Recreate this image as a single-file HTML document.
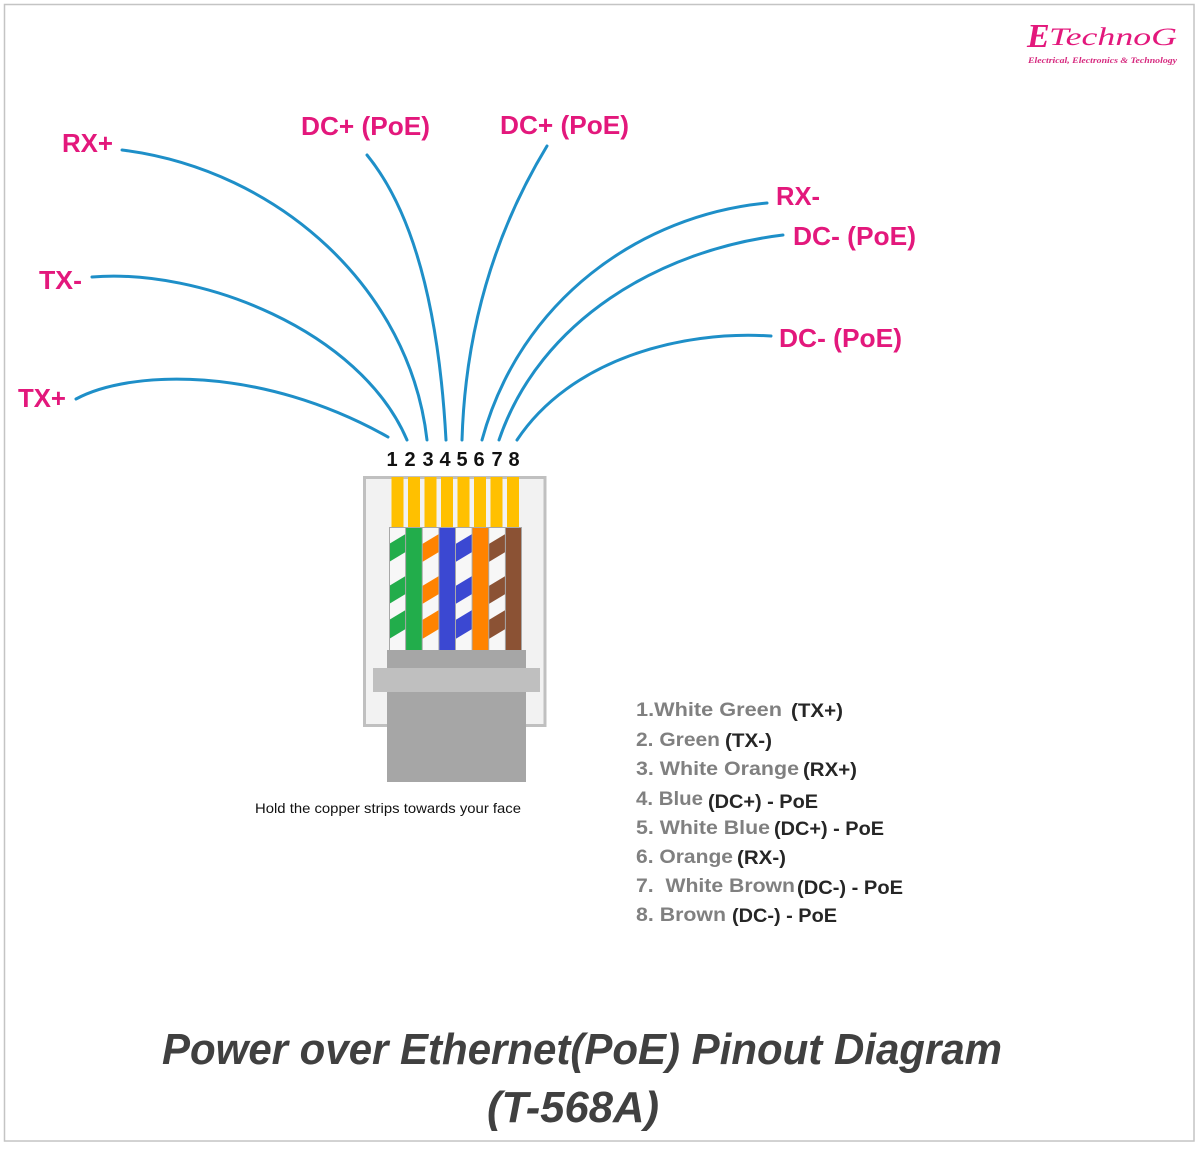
<!DOCTYPE html>
<html>
<head>
<meta charset="utf-8">
<style>
  html,body{margin:0;padding:0;background:#fff;}
  svg{display:block;}
  .lbl{font-family:"Liberation Sans",sans-serif;font-weight:bold;font-size:26px;fill:#e3187c;}
  .num{font-family:"Liberation Sans",sans-serif;font-weight:bold;font-size:20px;fill:#111;}
  .g{font-family:"Liberation Sans",sans-serif;font-weight:bold;font-size:19px;fill:#808080;}
  .d{font-family:"Liberation Sans",sans-serif;font-weight:bold;font-size:19px;fill:#262626;}
  .title{font-family:"Liberation Sans",sans-serif;font-weight:bold;font-style:italic;font-size:44px;fill:#404040;}
  .wire{fill:none;stroke:#1e8fc8;stroke-width:3;stroke-linecap:round;}
</style>
</head>
<body>
<svg width="1200" height="1149" viewBox="0 0 1200 1149" xmlns="http://www.w3.org/2000/svg">
  <rect x="0" y="0" width="1200" height="1149" fill="#fff"/>
  <!-- border -->
  <rect x="4.5" y="4.5" width="1189.5" height="1136.5" fill="none" stroke="#c4c4c4" stroke-width="1.5"/>

  <!-- logo -->
  <text x="1027" y="47" style="font-family:'Liberation Serif',serif;font-weight:bold;font-style:italic;font-size:34px;fill:#e3187c;">E</text>
  <text x="1049" y="45" textLength="128" lengthAdjust="spacingAndGlyphs" style="font-family:'Liberation Serif',serif;font-style:italic;font-size:25px;fill:#e3187c;">TechnoG</text>
  <text x="1028" y="63" textLength="149" lengthAdjust="spacingAndGlyphs" style="font-family:'Liberation Serif',serif;font-weight:bold;font-style:italic;font-size:8.5px;fill:#d6287e;">Electrical, Electronics &amp; Technology</text>

  <!-- labels -->
  <text class="lbl" x="62" y="152" textLength="51" lengthAdjust="spacingAndGlyphs">RX+</text>
  <text class="lbl" x="301" y="135" textLength="129" lengthAdjust="spacingAndGlyphs">DC+ (PoE)</text>
  <text class="lbl" x="500" y="134" textLength="129" lengthAdjust="spacingAndGlyphs">DC+ (PoE)</text>
  <text class="lbl" x="39" y="289" textLength="43" lengthAdjust="spacingAndGlyphs">TX-</text>
  <text class="lbl" x="18" y="407" textLength="48" lengthAdjust="spacingAndGlyphs">TX+</text>
  <text class="lbl" x="776" y="205" textLength="44" lengthAdjust="spacingAndGlyphs">RX-</text>
  <text class="lbl" x="793" y="245" textLength="123" lengthAdjust="spacingAndGlyphs">DC- (PoE)</text>
  <text class="lbl" x="779" y="347" textLength="123" lengthAdjust="spacingAndGlyphs">DC- (PoE)</text>

  <!-- wires -->
  <path class="wire" d="M76,399 C130,370 260,365 388,437"/>
  <path class="wire" d="M92,277 C200,268 360,330 407,440"/>
  <path class="wire" d="M122,150 C280,170 410,290 427,440"/>
  <path class="wire" d="M367,155 C420,220 440,330 446,440"/>
  <path class="wire" d="M547,146 C490,240 465,340 462,440"/>
  <path class="wire" d="M767,203 C640,215 520,300 482,440"/>
  <path class="wire" d="M783,235 C660,250 540,320 499,440"/>
  <path class="wire" d="M771,336 C680,330 570,360 517,440"/>

  <!-- pin numbers -->
  <text class="num" text-anchor="middle" x="392" y="466">1</text>
  <text class="num" text-anchor="middle" x="410" y="466">2</text>
  <text class="num" text-anchor="middle" x="428" y="466">3</text>
  <text class="num" text-anchor="middle" x="445" y="466">4</text>
  <text class="num" text-anchor="middle" x="462" y="466">5</text>
  <text class="num" text-anchor="middle" x="479" y="466">6</text>
  <text class="num" text-anchor="middle" x="497" y="466">7</text>
  <text class="num" text-anchor="middle" x="514" y="466">8</text>

  <!-- connector frame -->
  <rect x="364.5" y="477.5" width="180.5" height="248" fill="#f2f2f2" stroke="#c0c0c0" stroke-width="3"/>

  <!-- gold pins -->
  <g fill="#ffc000">
    <rect x="391.5" y="477" width="12" height="50"/>
    <rect x="408" y="477" width="12" height="50"/>
    <rect x="424.5" y="477" width="12" height="50"/>
    <rect x="441" y="477" width="12" height="50"/>
    <rect x="457.5" y="477" width="12" height="50"/>
    <rect x="474" y="477" width="12" height="50"/>
    <rect x="490.5" y="477" width="12" height="50"/>
    <rect x="507" y="477" width="12" height="50"/>
  </g>

  <defs>
    <clipPath id="c1"><rect x="389" y="527" width="16.6" height="123"/></clipPath>
    <clipPath id="c3"><rect x="422.25" y="527" width="16.6" height="123"/></clipPath>
    <clipPath id="c5"><rect x="455.5" y="527" width="16.6" height="123"/></clipPath>
    <clipPath id="c7"><rect x="488.75" y="527" width="16.6" height="123"/></clipPath>
  </defs>

  <!-- wires area -->
  <rect x="389" y="527" width="133" height="123" fill="#f7f7f7"/>
  <!-- solid wires -->
  <rect x="405.6" y="527" width="16.65" height="123" fill="#22ad4b"/>
  <rect x="438.9" y="527" width="16.6" height="123" fill="#3b48d2"/>
  <rect x="472.1" y="527" width="16.65" height="123" fill="#ff8300"/>
  <rect x="505.4" y="527" width="16.6" height="123" fill="#8b5234"/>

  <!-- striped wires -->
  <g clip-path="url(#c1)" fill="#22ad4b">
    <polygon points="389,544 389,562 405.6,552 405.6,534"/>
    <polygon points="389,586 389,604 405.6,594 405.6,576"/>
    <polygon points="389,620 389,639 405.6,629 405.6,610"/>
  </g>
  <g clip-path="url(#c3)" fill="#ff8300">
    <polygon points="422.25,544 422.25,562 438.9,552 438.9,534"/>
    <polygon points="422.25,586 422.25,604 438.9,594 438.9,576"/>
    <polygon points="422.25,620 422.25,639 438.9,629 438.9,610"/>
  </g>
  <g clip-path="url(#c5)" fill="#3b48d2">
    <polygon points="455.5,544 455.5,562 472.1,552 472.1,534"/>
    <polygon points="455.5,586 455.5,604 472.1,594 472.1,576"/>
    <polygon points="455.5,620 455.5,639 472.1,629 472.1,610"/>
  </g>
  <g clip-path="url(#c7)" fill="#8b5234">
    <polygon points="488.75,544 488.75,562 505.4,552 505.4,534"/>
    <polygon points="488.75,586 488.75,604 505.4,594 505.4,576"/>
    <polygon points="488.75,620 488.75,639 505.4,629 505.4,610"/>
  </g>
  <!-- separators -->
  <g stroke="#a8a8a8" stroke-width="1">
    <line x1="389.5" y1="527" x2="389.5" y2="650"/>
    <line x1="405.6" y1="527" x2="405.6" y2="650"/>
    <line x1="422.25" y1="527" x2="422.25" y2="650"/>
    <line x1="438.9" y1="527" x2="438.9" y2="650"/>
    <line x1="455.5" y1="527" x2="455.5" y2="650"/>
    <line x1="472.1" y1="527" x2="472.1" y2="650"/>
    <line x1="488.75" y1="527" x2="488.75" y2="650"/>
    <line x1="505.4" y1="527" x2="505.4" y2="650"/>
    <line x1="521.5" y1="527" x2="521.5" y2="650"/>
    <line x1="389" y1="527.5" x2="522" y2="527.5"/>
  </g>

  <!-- boot -->
  <rect x="387" y="650" width="139" height="18" fill="#a6a6a6"/>
  <rect x="373" y="668" width="167" height="24" fill="#bfbfbf"/>
  <rect x="387" y="692" width="139" height="90" fill="#a6a6a6"/>

  <text x="255" y="813" textLength="266" lengthAdjust="spacingAndGlyphs" style="font-family:'Liberation Sans',sans-serif;font-size:14px;fill:#111;">Hold the copper strips towards your face</text>

  <!-- legend -->
  <text class="g" x="636" y="716" textLength="146" lengthAdjust="spacingAndGlyphs">1.White Green</text>
  <text class="d" x="791" y="717" textLength="52" lengthAdjust="spacingAndGlyphs">(TX+)</text>
  <text class="g" x="636" y="746" textLength="84" lengthAdjust="spacingAndGlyphs">2. Green</text>
  <text class="d" x="725" y="747" textLength="47" lengthAdjust="spacingAndGlyphs">(TX-)</text>
  <text class="g" x="636" y="775" textLength="163" lengthAdjust="spacingAndGlyphs">3. White Orange</text>
  <text class="d" x="803" y="776" textLength="54" lengthAdjust="spacingAndGlyphs">(RX+)</text>
  <text class="g" x="636" y="805" textLength="67" lengthAdjust="spacingAndGlyphs">4. Blue</text>
  <text class="d" x="708" y="808" textLength="110" lengthAdjust="spacingAndGlyphs">(DC+) - PoE</text>
  <text class="g" x="636" y="834" textLength="134" lengthAdjust="spacingAndGlyphs">5. White Blue</text>
  <text class="d" x="774" y="835" textLength="110" lengthAdjust="spacingAndGlyphs">(DC+) - PoE</text>
  <text class="g" x="636" y="863" textLength="97" lengthAdjust="spacingAndGlyphs">6. Orange</text>
  <text class="d" x="737" y="864" textLength="49" lengthAdjust="spacingAndGlyphs">(RX-)</text>
  <text class="g" x="636" y="892" textLength="159" lengthAdjust="spacingAndGlyphs" xml:space="preserve">7.  White Brown</text>
  <text class="d" x="797" y="894" textLength="106" lengthAdjust="spacingAndGlyphs">(DC-) - PoE</text>
  <text class="g" x="636" y="921" textLength="90" lengthAdjust="spacingAndGlyphs">8. Brown</text>
  <text class="d" x="732" y="922" textLength="105" lengthAdjust="spacingAndGlyphs">(DC-) - PoE</text>

  <!-- title -->
  <text class="title" x="162" y="1064" textLength="840" lengthAdjust="spacingAndGlyphs">Power over Ethernet(PoE) Pinout Diagram</text>
  <text class="title" x="487" y="1122" textLength="172" lengthAdjust="spacingAndGlyphs">(T-568A)</text>
</svg>
</body>
</html>
